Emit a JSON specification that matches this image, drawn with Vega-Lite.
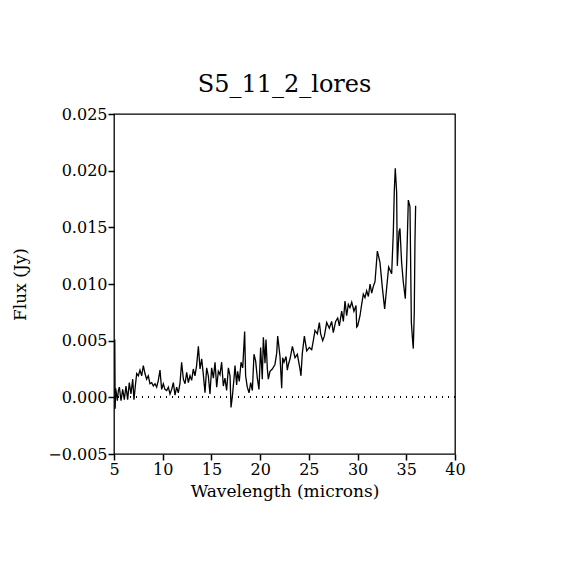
{
  "$schema": "https://vega.github.io/schema/vega-lite/v6.json",
  "autosize": "none",
  "width": 341,
  "height": 340,
  "padding": {"left": 114, "top": 114, "right": 115, "bottom": 116},
  "background": "white",
  "title": {
    "text": "S5_11_2_lores",
    "font": "DejaVu Serif",
    "fontSize": 24,
    "fontWeight": "normal",
    "color": "black",
    "anchor": "middle",
    "offset": 9
  },
  "config": {
    "view": {"stroke": "black", "strokeWidth": 1.3},
    "axis": {
      "grid": false,
      "domain": false,
      "tickColor": "black",
      "tickWidth": 1.5,
      "tickSize": 6,
      "labelPadding": 1,
      "labelFont": "DejaVu Serif",
      "labelFontSize": 16,
      "labelColor": "black",
      "titleFont": "DejaVu Serif",
      "titleFontSize": 17,
      "titleFontWeight": "normal",
      "titleColor": "black"
    }
  },
  "data": {
    "values": [
      {"wavelength": 5.08, "flux": 0.0051},
      {"wavelength": 5.12, "flux": -0.0010},
      {"wavelength": 5.17, "flux": 0.0008},
      {"wavelength": 5.24, "flux": 0.0004},
      {"wavelength": 5.34, "flux": -0.0003},
      {"wavelength": 5.45, "flux": 0.0006},
      {"wavelength": 5.55, "flux": 0.0009},
      {"wavelength": 5.72, "flux": -0.0003},
      {"wavelength": 5.89, "flux": 0.0007},
      {"wavelength": 6.06, "flux": -0.0002},
      {"wavelength": 6.23, "flux": 0.0010},
      {"wavelength": 6.40, "flux": -0.0002},
      {"wavelength": 6.57, "flux": 0.0013},
      {"wavelength": 6.74, "flux": 0.0003},
      {"wavelength": 6.92, "flux": 0.0016},
      {"wavelength": 7.05, "flux": -0.0002},
      {"wavelength": 7.19, "flux": 0.0010},
      {"wavelength": 7.33, "flux": 0.0021},
      {"wavelength": 7.50, "flux": 0.0019},
      {"wavelength": 7.67, "flux": 0.0024},
      {"wavelength": 7.84, "flux": 0.0019},
      {"wavelength": 8.01, "flux": 0.0028},
      {"wavelength": 8.18, "flux": 0.0021},
      {"wavelength": 8.35, "flux": 0.0016},
      {"wavelength": 8.52, "flux": 0.0019},
      {"wavelength": 8.69, "flux": 0.0012},
      {"wavelength": 8.87, "flux": 0.0013},
      {"wavelength": 9.04, "flux": 0.0010},
      {"wavelength": 9.21, "flux": 0.0012},
      {"wavelength": 9.38, "flux": 0.0009},
      {"wavelength": 9.55, "flux": 0.0015},
      {"wavelength": 9.72, "flux": 0.0024},
      {"wavelength": 9.89, "flux": 0.0007},
      {"wavelength": 10.06, "flux": 0.0012},
      {"wavelength": 10.23, "flux": 0.0007},
      {"wavelength": 10.41, "flux": 0.0006},
      {"wavelength": 10.58, "flux": 0.0009},
      {"wavelength": 10.75, "flux": 0.0003},
      {"wavelength": 10.92, "flux": 0.0007},
      {"wavelength": 11.09, "flux": 0.0013},
      {"wavelength": 11.26, "flux": 0.0002},
      {"wavelength": 11.43, "flux": 0.0009},
      {"wavelength": 11.60, "flux": 0.0004},
      {"wavelength": 11.77, "flux": 0.0012},
      {"wavelength": 11.94, "flux": 0.0031},
      {"wavelength": 12.12, "flux": 0.0016},
      {"wavelength": 12.29, "flux": 0.0012},
      {"wavelength": 12.46, "flux": 0.0022},
      {"wavelength": 12.63, "flux": 0.0013},
      {"wavelength": 12.80, "flux": 0.0019},
      {"wavelength": 12.97, "flux": 0.0015},
      {"wavelength": 13.14, "flux": 0.0025},
      {"wavelength": 13.31, "flux": 0.0019},
      {"wavelength": 13.48, "flux": 0.0028},
      {"wavelength": 13.66, "flux": 0.0045},
      {"wavelength": 13.83, "flux": 0.0025},
      {"wavelength": 14.00, "flux": 0.0034},
      {"wavelength": 14.17, "flux": 0.0020},
      {"wavelength": 14.34, "flux": 0.0004},
      {"wavelength": 14.51, "flux": 0.0026},
      {"wavelength": 14.68, "flux": 0.0019},
      {"wavelength": 14.85, "flux": 0.0003},
      {"wavelength": 15.02, "flux": 0.0026},
      {"wavelength": 15.20, "flux": 0.0017},
      {"wavelength": 15.37, "flux": 0.0031},
      {"wavelength": 15.54, "flux": 0.0009},
      {"wavelength": 15.71, "flux": 0.0023},
      {"wavelength": 15.88, "flux": 0.0020},
      {"wavelength": 16.05, "flux": 0.0031},
      {"wavelength": 16.22, "flux": 0.0010},
      {"wavelength": 16.39, "flux": 0.0017},
      {"wavelength": 16.56, "flux": 0.0006},
      {"wavelength": 16.74, "flux": 0.0026},
      {"wavelength": 16.91, "flux": 0.0019},
      {"wavelength": 17.01, "flux": -0.0009},
      {"wavelength": 17.15, "flux": 0.0001},
      {"wavelength": 17.32, "flux": 0.0017},
      {"wavelength": 17.42, "flux": 0.0028},
      {"wavelength": 17.59, "flux": 0.0011},
      {"wavelength": 17.69, "flux": 0.0023},
      {"wavelength": 17.86, "flux": 0.0014},
      {"wavelength": 18.04, "flux": 0.0031},
      {"wavelength": 18.21, "flux": 0.0026},
      {"wavelength": 18.41, "flux": 0.0058},
      {"wavelength": 18.51, "flux": 0.0019},
      {"wavelength": 18.68, "flux": 0.0009},
      {"wavelength": 18.86, "flux": 0.0004},
      {"wavelength": 19.03, "flux": 0.0013},
      {"wavelength": 19.20, "flux": 0.0006},
      {"wavelength": 19.37, "flux": 0.0038},
      {"wavelength": 19.54, "flux": 0.0032},
      {"wavelength": 19.71, "flux": 0.0017},
      {"wavelength": 19.88, "flux": 0.0007},
      {"wavelength": 20.05, "flux": 0.0044},
      {"wavelength": 20.22, "flux": 0.0016},
      {"wavelength": 20.33, "flux": 0.0053},
      {"wavelength": 20.50, "flux": 0.0030},
      {"wavelength": 20.60, "flux": 0.0051},
      {"wavelength": 20.74, "flux": 0.0025},
      {"wavelength": 20.84, "flux": 0.0016},
      {"wavelength": 21.01, "flux": 0.0023},
      {"wavelength": 21.25, "flux": 0.0025},
      {"wavelength": 21.52, "flux": 0.0029},
      {"wavelength": 21.70, "flux": 0.0039},
      {"wavelength": 21.80, "flux": 0.0054},
      {"wavelength": 22.04, "flux": 0.0036},
      {"wavelength": 22.21, "flux": 0.0008},
      {"wavelength": 22.31, "flux": 0.0035},
      {"wavelength": 22.45, "flux": 0.0031},
      {"wavelength": 22.66, "flux": 0.0036},
      {"wavelength": 22.79, "flux": 0.0024},
      {"wavelength": 22.90, "flux": 0.0029},
      {"wavelength": 23.07, "flux": 0.0034},
      {"wavelength": 23.31, "flux": 0.0045},
      {"wavelength": 23.58, "flux": 0.0035},
      {"wavelength": 23.82, "flux": 0.0038},
      {"wavelength": 24.09, "flux": 0.0025},
      {"wavelength": 24.19, "flux": 0.0019},
      {"wavelength": 24.33, "flux": 0.0039},
      {"wavelength": 24.54, "flux": 0.0054},
      {"wavelength": 24.78, "flux": 0.0041},
      {"wavelength": 25.05, "flux": 0.0044},
      {"wavelength": 25.29, "flux": 0.0042},
      {"wavelength": 25.46, "flux": 0.0050},
      {"wavelength": 25.63, "flux": 0.0059},
      {"wavelength": 25.87, "flux": 0.0056},
      {"wavelength": 26.08, "flux": 0.0066},
      {"wavelength": 26.21, "flux": 0.0056},
      {"wavelength": 26.42, "flux": 0.0050},
      {"wavelength": 26.59, "flux": 0.0054},
      {"wavelength": 26.83, "flux": 0.0066},
      {"wavelength": 27.10, "flux": 0.0061},
      {"wavelength": 27.34, "flux": 0.0067},
      {"wavelength": 27.51, "flux": 0.0057},
      {"wavelength": 27.75, "flux": 0.0067},
      {"wavelength": 27.96, "flux": 0.0070},
      {"wavelength": 28.13, "flux": 0.0063},
      {"wavelength": 28.37, "flux": 0.0076},
      {"wavelength": 28.54, "flux": 0.0067},
      {"wavelength": 28.71, "flux": 0.0085},
      {"wavelength": 28.88, "flux": 0.0072},
      {"wavelength": 29.05, "flux": 0.0082},
      {"wavelength": 29.22, "flux": 0.0079},
      {"wavelength": 29.40, "flux": 0.0084},
      {"wavelength": 29.63, "flux": 0.0076},
      {"wavelength": 29.84, "flux": 0.0081},
      {"wavelength": 29.91, "flux": 0.0062},
      {"wavelength": 30.01, "flux": 0.0063},
      {"wavelength": 30.25, "flux": 0.0072},
      {"wavelength": 30.42, "flux": 0.0082},
      {"wavelength": 30.59, "flux": 0.0091},
      {"wavelength": 30.76, "flux": 0.0088},
      {"wavelength": 30.93, "flux": 0.0094},
      {"wavelength": 31.11, "flux": 0.0089},
      {"wavelength": 31.28, "flux": 0.0100},
      {"wavelength": 31.45, "flux": 0.0092},
      {"wavelength": 31.62, "flux": 0.0098},
      {"wavelength": 31.79, "flux": 0.0102},
      {"wavelength": 32.03, "flux": 0.0129},
      {"wavelength": 32.30, "flux": 0.0119},
      {"wavelength": 32.54, "flux": 0.0097},
      {"wavelength": 32.78, "flux": 0.0078},
      {"wavelength": 32.98, "flux": 0.0096},
      {"wavelength": 33.19, "flux": 0.0115},
      {"wavelength": 33.35, "flux": 0.0112},
      {"wavelength": 33.50, "flux": 0.0109},
      {"wavelength": 33.67, "flux": 0.0146},
      {"wavelength": 33.77, "flux": 0.0182},
      {"wavelength": 33.87, "flux": 0.0202},
      {"wavelength": 34.01, "flux": 0.0181},
      {"wavelength": 34.08, "flux": 0.0116},
      {"wavelength": 34.25, "flux": 0.0146},
      {"wavelength": 34.35, "flux": 0.0149},
      {"wavelength": 34.52, "flux": 0.0119},
      {"wavelength": 34.69, "flux": 0.0102},
      {"wavelength": 34.90, "flux": 0.0087},
      {"wavelength": 35.04, "flux": 0.0119},
      {"wavelength": 35.21, "flux": 0.0174},
      {"wavelength": 35.38, "flux": 0.0168},
      {"wavelength": 35.52, "flux": 0.0066},
      {"wavelength": 35.65, "flux": 0.0050},
      {"wavelength": 35.72, "flux": 0.0043},
      {"wavelength": 35.82, "flux": 0.0075},
      {"wavelength": 35.89, "flux": 0.0137},
      {"wavelength": 35.96, "flux": 0.0169}
    ]
  },
  "layer": [
    {
      "mark": {"type": "line", "color": "black", "strokeWidth": 1.3, "interpolate": "linear"},
      "encoding": {
        "x": {
          "field": "wavelength",
          "type": "quantitative",
          "scale": {"domain": [5, 40], "nice": false, "zero": false},
          "axis": {"tickCount": 7, "format": "d", "title": "Wavelength (microns)", "titlePadding": 6, "labelFlush": false}
        },
        "y": {
          "field": "flux",
          "type": "quantitative",
          "scale": {"domain": [-0.005, 0.025], "nice": false, "zero": false},
          "axis": {"tickCount": 6, "format": ".3f", "title": "Flux (Jy)", "titlePadding": 18, "labelFlush": false}
        }
      }
    },
    {
      "mark": {"type": "rule", "color": "black", "strokeWidth": 1, "strokeDash": [1, 5]},
      "encoding": {
        "y": {"datum": 0, "type": "quantitative"}
      }
    }
  ]
}
